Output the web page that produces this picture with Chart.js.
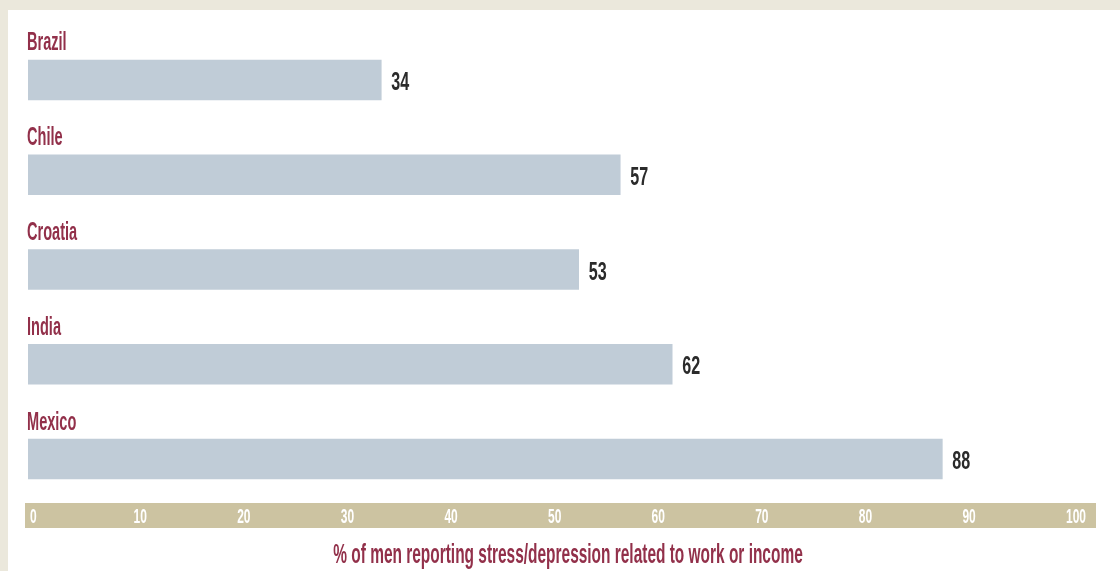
<!DOCTYPE html>
<html><head><meta charset="utf-8">
<script src="https://cdn.jsdelivr.net/npm/chart.js@4.4.0/dist/chart.umd.min.js"></script>
<style>
html,body{margin:0;padding:0;background:#ebe8dc;width:1120px;height:571px;overflow:hidden}
#wrap{position:absolute;left:8px;top:10px;width:1112px;height:561px;background:#fff}
canvas{display:block}
</style></head><body><div id="wrap"><canvas id="c" width="1112" height="561"></canvas></div>
<script>
const countries = ['Brazil', 'Chile', 'Croatia', 'India', 'Mexico'];
const values = [34, 57, 53, 62, 88];
const tickValues = [0, 10, 20, 30, 40, 50, 60, 70, 80, 90, 100];
const axisTitle = '% of men reporting stress/depression related to work or income';

const RED = '#92304a';
const FONT_FAMILY = '"Liberation Sans", Arial, sans-serif';

function drawText(ctx, text, x, y, font, color, sx, align) {
  ctx.save();
  ctx.font = font;
  ctx.fillStyle = color;
  ctx.textBaseline = 'alphabetic';
  ctx.textAlign = align || 'left';
  ctx.translate(x, y);
  ctx.scale(sx, 1);
  ctx.fillText(text, 0, 0);
  ctx.restore();
}

const decor = {
  id: 'decor',
  afterDatasetsDraw(chart) {
    const ctx = chart.ctx;
    const xs = chart.scales.x;
    const meta = chart.getDatasetMeta(0);
    // axis band
    const x0 = xs.getPixelForValue(0);
    ctx.save();
    ctx.fillStyle = '#ccc3a1';
    ctx.fillRect(x0 - 3, 493, xs.right + 29 - (x0 - 3), 25);
    ctx.restore();
    tickValues.forEach(v => {
      drawText(ctx, String(v), xs.getPixelForValue(v) + 2 - v * 0.03, 513,
        'bold 20px ' + FONT_FAMILY, '#ffffff', 0.6, 'left');
    });
    meta.data.forEach((bar, i) => {
      const top = bar.y - bar.height / 2;
      drawText(ctx, countries[i], x0 - 1, top - 9.5,
        'bold 26px ' + FONT_FAMILY, RED, 0.56, 'left');
      drawText(ctx, String(values[i]), bar.x + 10, bar.y + 10,
        'bold 26px ' + FONT_FAMILY, '#2b2b2b', 0.62, 'left');
    });
    drawText(ctx, axisTitle, 560, 553, 'bold 27px ' + FONT_FAMILY, RED, 0.572, 'center');
  }
};

new Chart(document.getElementById('c'), {
  type: 'bar',
  data: {
    labels: countries,
    datasets: [{
      data: values,
      backgroundColor: '#c0ccd7',
      borderWidth: 0,
      barThickness: 40
    }]
  },
  options: {
    indexAxis: 'y',
    responsive: false,
    animation: false,
    events: [],
    layout: { padding: { left: 20, right: 53, top: 22.6, bottom: 64.6 } },
    scales: {
      x: { display: false, min: 0, max: 100 },
      y: { display: false }
    },
    plugins: { legend: { display: false }, tooltip: { enabled: false } }
  },
  plugins: [decor]
});
</script></body></html>
